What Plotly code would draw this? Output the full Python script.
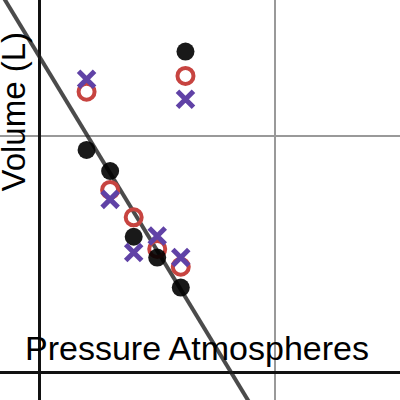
import plotly.graph_objects as go

# Data
pressure = [2, 3, 4, 5, 6, 6.2]
volume_black = [9.43, 8.54, 5.76, 4.88, 3.61, 13.59]
volume_red = [11.89, 7.74, 6.58, 5.24, 4.49, 12.56]
volume_purple = [12.42, 7.34, 5.09, 5.79, 4.88, 11.57]

fit_slope = -1.64
fit_intercept = 13.37

x_range = [-1.677, 15.31]
y_range = [-1.142, 15.77]

x_label = "Pressure Atmospheres"
y_label = "Volume (L)"

fit_x = [x_range[0] - 1, x_range[1] + 1]
fit_y = [fit_slope * v + fit_intercept for v in fit_x]

fig = go.Figure()
fig.add_trace(go.Scatter(x=fit_x, y=fit_y, mode="lines",
                         line=dict(color="rgba(30,30,30,0.8)", width=4),
                         hoverinfo="skip"))
fig.add_trace(go.Scatter(x=pressure, y=volume_red, mode="markers",
                         marker=dict(symbol="circle-open", size=16, color="#c74440",
                                     line=dict(width=4, color="#c74440"))))
fig.add_trace(go.Scatter(x=pressure, y=volume_black, mode="markers",
                         marker=dict(symbol="circle", size=18, color="rgba(0,0,0,0.9)",
                                     line=dict(width=0))))
fig.add_trace(go.Scatter(x=pressure, y=volume_purple, mode="markers",
                         marker=dict(symbol="x-thin", size=16, color="#6042a6",
                                     line=dict(width=5, color="#6042a6"))))

axis_common = dict(showgrid=True, gridcolor="#999999", gridwidth=2, dtick=10,
                   zeroline=True, zerolinecolor="#111111", zerolinewidth=3,
                   showticklabels=False, ticks="", showline=False, fixedrange=True)

fig.update_layout(
    width=400, height=400,
    margin=dict(l=0, r=0, t=0, b=0),
    paper_bgcolor="white", plot_bgcolor="white",
    showlegend=False,
    xaxis=dict(range=x_range, **axis_common),
    yaxis=dict(range=y_range, **axis_common),
    font=dict(family="Liberation Sans, Arial, sans-serif", color="black"),
    annotations=[
        dict(text=x_label, xref="paper", yref="paper", x=196.7 / 400, y=1 - 347.5 / 400,
             xanchor="center", yanchor="middle", showarrow=False,
             font=dict(size=34, color="black")),
        dict(text=y_label, xref="paper", yref="paper", x=13 / 400, y=1 - 111.5 / 400,
             xanchor="center", yanchor="middle", showarrow=False, textangle=-90,
             font=dict(size=33, color="black")),
    ],
)

fig.write_html("out.html", config={"displayModeBar": False},
               post_script="document.body.style.margin='0';document.body.style.overflow='hidden';")
